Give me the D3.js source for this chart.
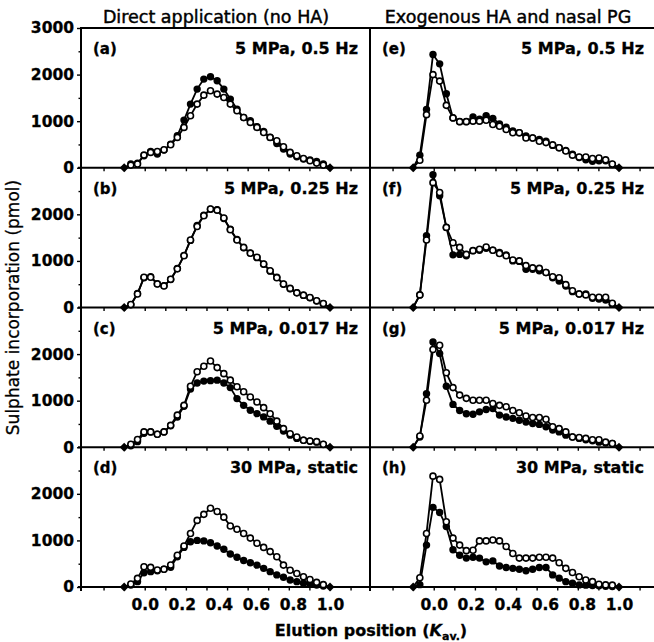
<!DOCTYPE html>
<html>
<head>
<meta charset="utf-8">
<script src="https://cdn.jsdelivr.net/npm/d3@7"></script>
<style>
  body { margin: 0; background: #fff; }
  svg { display: block; font-family: "DejaVu Sans", sans-serif; }
</style>
</head>
<body>
<div id="chart"></div>
<script>
// elution position (Kav) of each collected fraction
const kav = [-0.111, -0.075, -0.039, -0.004, 0.032, 0.068, 0.104, 0.140, 0.176, 0.212, 0.247,
  0.283, 0.319, 0.355, 0.391, 0.427, 0.462, 0.498, 0.534, 0.570, 0.606, 0.642, 0.677,
  0.713, 0.749, 0.785, 0.821, 0.857, 0.892, 0.928, 0.964, 1.000];

// sulphate incorporation (pmol), filled and open symbols
const filledA = [0, 79, 100, 258, 350, 293, 379, 508, 687, 1023, 1366, 1688, 1903, 1953, 1867, 1688, 1474, 1259, 1080, 1009, 880, 780, 651, 522, 401, 293, 236, 186, 165, 136, 79, 0];
const openA = [0, 57, 79, 272, 329, 350, 386, 494, 651, 866, 1116, 1366, 1559, 1652, 1581, 1509, 1366, 1223, 1080, 973, 866, 758, 651, 579, 451, 329, 258, 200, 150, 100, 57, 0];
const filledB = [0, 60, 300, 640, 660, 510, 470, 600, 840, 1120, 1440, 1760, 1980, 2110, 2100, 1910, 1680, 1460, 1280, 1170, 1070, 930, 780, 650, 500, 400, 320, 260, 210, 140, 80, 0];
const openB = [0, 65, 290, 650, 650, 505, 460, 605, 830, 1110, 1450, 1740, 1970, 2115, 2090, 1920, 1670, 1450, 1290, 1165, 1080, 935, 790, 640, 505, 410, 315, 265, 215, 145, 85, 0];
const filledC = [0, 30, 120, 300, 330, 280, 330, 460, 650, 880, 1250, 1380, 1420, 1430, 1440, 1380, 1280, 1044, 900, 794, 722, 651, 560, 450, 350, 260, 190, 150, 130, 110, 60, 0];
const openC = [0, 64, 165, 330, 330, 280, 330, 470, 690, 900, 1310, 1620, 1740, 1850, 1710, 1580, 1440, 1300, 1190, 1080, 970, 850, 720, 560, 400, 290, 220, 150, 135, 120, 65, 0];
const filledD = [0, 43, 115, 307, 329, 350, 380, 422, 650, 850, 970, 1000, 990, 950, 880, 810, 710, 640, 570, 520, 470, 400, 330, 260, 210, 150, 115, 80, 64, 43, 20, 0];
const openD = [0, 64, 186, 436, 422, 365, 380, 472, 680, 880, 1150, 1430, 1560, 1690, 1620, 1500, 1310, 1240, 1150, 1050, 940, 850, 760, 650, 470, 360, 290, 220, 160, 100, 50, 0];
const filledE = [0, 270, 1250, 2430, 2230, 1590, 1070, 990, 990, 1090, 1040, 1120, 1060, 940, 870, 790, 750, 680, 640, 610, 570, 480, 430, 370, 290, 220, 170, 140, 150, 150, 70, 0];
const openE = [0, 160, 1140, 2000, 1860, 1340, 1070, 990, 990, 1000, 1000, 1020, 930, 890, 820, 750, 750, 640, 640, 570, 540, 490, 430, 360, 270, 230, 230, 200, 210, 170, 80, 0];
const filledF = [0, 270, 1540, 2850, 2400, 1720, 1130, 1140, 1110, 1220, 1230, 1270, 1230, 1180, 1130, 1000, 990, 820, 820, 790, 750, 640, 570, 460, 340, 290, 290, 200, 180, 160, 70, 0];
const openF = [0, 270, 1450, 2680, 2470, 1720, 1390, 1290, 1140, 1220, 1250, 1300, 1230, 1160, 1110, 1020, 1000, 900, 850, 840, 750, 660, 640, 490, 360, 290, 270, 220, 220, 220, 90, 0];
const filledG = [0, 220, 1150, 2260, 2010, 1310, 920, 790, 720, 710, 760, 810, 830, 690, 650, 620, 580, 540, 510, 490, 440, 370, 330, 260, 220, 190, 160, 140, 110, 90, 80, 0];
const openG = [0, 240, 1010, 2100, 2190, 1600, 1280, 1120, 1050, 1010, 1010, 1010, 940, 900, 870, 790, 740, 670, 640, 640, 600, 440, 400, 330, 220, 210, 190, 160, 160, 110, 80, 0];
const filledH = [0, 50, 900, 1710, 1600, 1300, 800, 680, 620, 640, 620, 540, 560, 450, 420, 400, 380, 350, 380, 420, 420, 260, 190, 115, 80, 45, 40, 30, 25, 15, 10, 0];
const openH = [0, 200, 1150, 2380, 2310, 1400, 1050, 900, 780, 790, 990, 990, 1010, 990, 870, 720, 620, 620, 620, 640, 640, 620, 520, 400, 310, 220, 150, 115, 60, 45, 40, 0];

const columnTitles = ["Direct application (no HA)", "Exogenous HA and nasal PG"];
const panelLetters = ["(a)", "(b)", "(c)", "(d)", "(e)", "(f)", "(g)", "(h)"];
const conditions = ["5 MPa, 0.5 Hz", "5 MPa, 0.25 Hz", "5 MPa, 0.017 Hz", "30 MPa, static"];
const xLabelValues = [0.0, 0.2, 0.4, 0.6, 0.8, 1.0];
const fractionTicks = [-2, -1, 0, 1, 2, 3, 4, 5, 6, 7, 8, 9, 10]; // in ninths of Kav
const yTickValues = [0, 500, 1000, 1500, 2000, 2500, 3000];

const panels = [
    { filled: filledA, open: openA }, { filled: filledB, open: openB },
    { filled: filledC, open: openC }, { filled: filledD, open: openD },
    { filled: filledE, open: openE }, { filled: filledF, open: openF },
    { filled: filledG, open: openG }, { filled: filledH, open: openH }
];

const canvasWidth = 654;
const canvasHeight = 642;
const plotTop = 28;
const rowHeight = 139.75;
const colLeft = [81, 370];
const colWidth = 289;
const xDomain = [-0.344, 1.216];
const conditionRight = [358, 644];
const titleCentre = [216, 508];

const svg = d3.select("#chart").append("svg")
    .attr("width", canvasWidth)
    .attr("height", canvasHeight);

const xScaleFor = c => d3.scaleLinear().domain(xDomain).range([colLeft[c], colLeft[c] + colWidth]);
const yScaleFor = r => d3.scaleLinear().domain([0, 3000])
    .range([plotTop + rowHeight * (r + 1), plotTop + rowHeight * r]);
const plotBottom = plotTop + rowHeight * 4;

// heavier text, like the scanned figure
const thicken = (sel, w) => sel.attr("stroke", "#000").attr("stroke-width", w).attr("paint-order", "stroke");

// frame lines
svg.append("line").attr("x1", colLeft[0]).attr("x2", canvasWidth)
    .attr("y1", plotTop).attr("y2", plotTop)
    .attr("stroke", "#000").attr("stroke-width", 2);
colLeft.forEach(x => {
    svg.append("line").attr("x1", x).attr("x2", x)
        .attr("y1", plotTop - 1).attr("y2", plotBottom + 4)
        .attr("stroke", "#000").attr("stroke-width", 2);
});

// column titles
columnTitles.forEach((t, c) => {
    svg.append("text")
        .attr("x", titleCentre[c]).attr("y", 22.5)
        .attr("text-anchor", "middle")
        .attr("font-size", 17.5)
        .text(t)
        .call(thicken, 0.45);
});

for (let r = 0; r < 4; r++) {
    const y = yScaleFor(r);

    // baseline across both columns
    svg.append("line").attr("x1", colLeft[0] - 3).attr("x2", canvasWidth)
        .attr("y1", y(0)).attr("y2", y(0))
        .attr("stroke", "#000").attr("stroke-width", 2);

    // left y axis
    const yAxis = d3.axisLeft(y)
        .tickValues(r === 0 ? yTickValues : yTickValues.filter(d => d < 3000))
        .tickSizeOuter(0)
        .tickSizeInner(4)
        .tickPadding(3)
        .tickFormat(d => d % 1000 ? "" : d);
    const ya = svg.append("g")
        .attr("transform", `translate(${colLeft[0]},0)`)
        .call(yAxis);
    ya.select(".domain").remove();
    ya.selectAll(".tick line").attr("x2", d => d % 1000 ? -2.5 : -4).attr("stroke-width", 1.4);
    ya.selectAll(".tick text")
        .attr("font-family", "DejaVu Sans")
        .attr("font-weight", "bold")
        .attr("font-size", 15.5)
        .attr("fill", "#000")
        .call(thicken, 0.3);

    for (let c = 0; c < 2; c++) {
        const x = xScaleFor(c);
        const p = panels[c * 4 + r];

        // fraction ticks under the baseline
        const xa = svg.append("g")
            .attr("transform", `translate(0,${y(0)})`)
            .call(d3.axisBottom(x).tickValues(fractionTicks.map(k => k / 9)).tickSize(3.5).tickFormat(""));
        xa.select(".domain").remove();
        xa.selectAll(".tick line").attr("stroke-width", 1.4);

        if (r === 3) {
            const xl = svg.append("g")
                .attr("transform", `translate(0,${y(0)})`)
                .call(d3.axisBottom(x).tickValues(xLabelValues).tickSize(0).tickPadding(12)
                    .tickFormat(d3.format(".1f")));
            xl.select(".domain").remove();
            xl.selectAll(".tick text")
                .attr("font-family", "DejaVu Sans")
                .attr("font-weight", "bold")
                .attr("font-size", 15.5)
                .attr("fill", "#000")
                .call(thicken, 0.3);
        }

        // panel labels
        svg.append("text")
            .attr("x", colLeft[c] + 12).attr("y", y(3000) + 26)
            .attr("font-size", 15).attr("font-weight", "bold")
            .text(panelLetters[c * 4 + r])
            .call(thicken, 0.3);
        svg.append("text")
            .attr("x", conditionRight[c]).attr("y", y(3000) + 26)
            .attr("text-anchor", "end")
            .attr("font-size", 16).attr("font-weight", "bold")
            .text(conditions[r])
            .call(thicken, 0.3);

        const line = d3.line().x((d, i) => x(kav[i])).y(d => y(d));
        const g = svg.append("g");

        [p.filled, p.open].forEach(s => {
            g.append("path").datum(s)
                .attr("d", line)
                .attr("fill", "none")
                .attr("stroke", "#000")
                .attr("stroke-width", 1.8);
        });

        const inner = (s) => s.map((v, i) => ({ v, i })).filter(d => d.i > 0 && d.i < s.length - 1);

        g.selectAll(".filled").data(inner(p.filled)).enter()
            .append("circle").attr("class", "filled")
            .attr("cx", d => x(kav[d.i])).attr("cy", d => y(d.v))
            .attr("r", 3.7).attr("fill", "#000");

        g.selectAll(".open").data(inner(p.open)).enter()
            .append("circle").attr("class", "open")
            .attr("cx", d => x(kav[d.i])).attr("cy", d => y(d.v))
            .attr("r", 3.0).attr("fill", "#fff")
            .attr("stroke", "#000").attr("stroke-width", 1.6);

        // end points drawn as diamonds on the baseline
        const ends = [0, kav.length - 1];
        g.selectAll(".end").data(ends).enter()
            .append("path").attr("class", "end")
            .attr("transform", i => `translate(${x(kav[i])},${y(p.filled[i])})`)
            .attr("d", "M0,-4.5L4.5,0L0,4.5L-4.5,0Z")
            .attr("fill", "#000");
    }
}

// axis titles
svg.append("text")
    .attr("transform", `translate(19,${(plotTop + plotBottom) / 2}) rotate(-90)`)
    .attr("text-anchor", "middle")
    .attr("font-size", 17)
    .text("Sulphate incorporation (pmol)")
    .call(thicken, 0.3);

const xt = svg.append("text")
    .attr("x", 371).attr("y", 636)
    .attr("text-anchor", "middle")
    .attr("font-size", 16)
    .attr("font-weight", "bold")
    .call(thicken, 0.3);
xt.append("tspan").text("Elution position (");
xt.append("tspan").attr("font-style", "italic").text("K");
xt.append("tspan").attr("font-size", 11).attr("dy", 4).text("av.");
xt.append("tspan").attr("dy", -4).text(")");
</script>
</body>
</html>
